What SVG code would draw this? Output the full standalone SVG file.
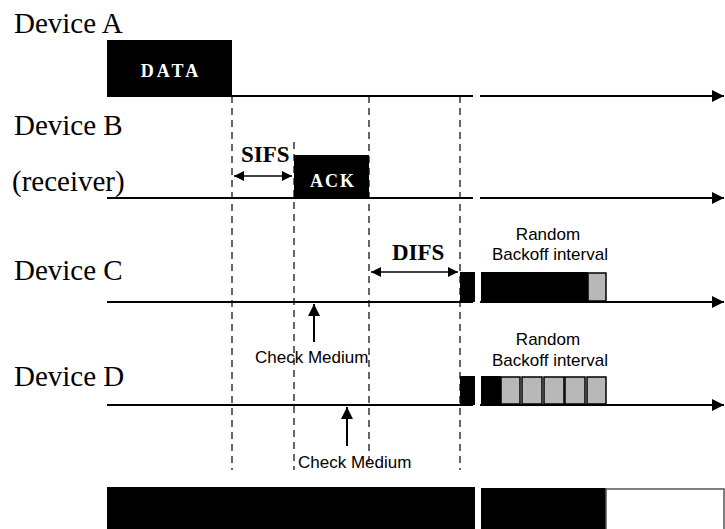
<svg xmlns="http://www.w3.org/2000/svg" width="725" height="529" viewBox="0 0 725 529">
<style>
.lbl{font-family:"Liberation Serif","Times New Roman",serif;font-size:29px;fill:#000}
.bold{font-family:"Liberation Serif","Times New Roman",serif;font-size:23px;font-weight:bold;fill:#000}
.wt{font-family:"Liberation Serif","Times New Roman",serif;font-size:18px;font-weight:bold;fill:#fff}
.sans{font-family:"Liberation Sans",Arial,sans-serif;font-size:17px;fill:#000}
.line{stroke:#000;stroke-width:2;fill:none}
.dash{stroke:#000;stroke-width:1.2;stroke-dasharray:7,5;fill:none}
.dbl{stroke:#000;stroke-width:1.6;fill:none}
.blk{fill:#000}
.gry{fill:#b8b8b8;stroke:#000;stroke-width:1.5}
</style>
<defs>
<marker id="big" viewBox="0 0 10 10" refX="10" refY="5" markerWidth="14" markerHeight="12" markerUnits="userSpaceOnUse" orient="auto"><path d="M0,0 L10,5 L0,10 z" fill="#000"/></marker>
<marker id="sm" viewBox="0 0 10 10" refX="10" refY="5" markerWidth="16" markerHeight="10" markerUnits="userSpaceOnUse" orient="auto-start-reverse"><path d="M0,0 L10,5 L0,10 z" fill="#000"/></marker>
<marker id="up" viewBox="0 0 10 10" refX="10" refY="5" markerWidth="18" markerHeight="12" markerUnits="userSpaceOnUse" orient="auto"><path d="M0,0 L10,5 L0,10 z" fill="#000"/></marker>
</defs>

<g id="labels">
<text class="lbl" x="14" y="33">Device A</text>
<text class="lbl" x="14" y="135">Device B</text>
<text class="lbl" x="12" y="191">(receiver)</text>
<text class="lbl" x="14" y="280">Device C</text>
<text class="lbl" x="14" y="386">Device D</text>
</g>

<g id="connectors">
<path class="line" d="M107,96 H473 M480,96 H724" marker-end="url(#big)"/>
<path class="line" d="M107,198 H473 M480,198 H724" marker-end="url(#big)"/>
<path class="line" d="M107,302 H473 M480,302 H724" marker-end="url(#big)"/>
<path class="line" d="M107,405 H473 M480,405 H724" marker-end="url(#big)"/>
<path class="dash" d="M232,96 V470"/>
<path class="dash" d="M294,142 V470"/>
<path class="dash" d="M369,96 V462"/>
<path class="dash" d="M460,96 V470"/>
<path class="dbl" d="M234,176 H292" marker-start="url(#sm)" marker-end="url(#sm)"/>
<path class="dbl" d="M371,272 H458" marker-start="url(#sm)" marker-end="url(#sm)"/>
<path class="line" d="M314,342 V304" marker-end="url(#up)"/>
<path class="line" d="M347,446 V407" marker-end="url(#up)"/>
</g>

<g id="data">
<rect class="blk" x="107" y="40" width="125" height="55"/>
<text class="wt" x="171" y="77" text-anchor="middle" letter-spacing="3">DATA</text>
</g>

<g id="ack">
<rect class="blk" x="294" y="155" width="75" height="43"/>
<text class="wt" x="333" y="187" text-anchor="middle" letter-spacing="2">ACK</text>
</g>

<g id="sifs"><text class="bold" x="241" y="162">SIFS</text></g>
<g id="difs"><text class="bold" x="392" y="260">DIFS</text></g>

<g id="deviceC-backoff">
<text class="sans" x="548" y="240" text-anchor="middle">Random</text>
<text class="sans" x="550" y="260" text-anchor="middle">Backoff interval</text>
<rect class="blk" x="460" y="272" width="15" height="30"/>
<rect class="blk" x="481" y="272" width="107" height="30"/>
<rect class="gry" x="588" y="273" width="18" height="28"/>
</g>

<g id="checkC"><text class="sans" x="255" y="363">Check Medium</text></g>

<g id="deviceD-backoff">
<text class="sans" x="548" y="345" text-anchor="middle">Random</text>
<text class="sans" x="550" y="366" text-anchor="middle">Backoff interval</text>
<rect class="blk" x="460" y="376" width="15" height="29"/>
<rect class="blk" x="481" y="376" width="20" height="29"/>
<rect class="gry" x="501" y="377" width="19" height="27"/>
<rect class="gry" x="522" y="377" width="20" height="27"/>
<rect class="gry" x="544" y="377" width="20" height="27"/>
<rect class="gry" x="565" y="377" width="20" height="27"/>
<rect class="gry" x="587" y="377" width="19" height="27"/>
</g>

<g id="checkD"><text class="sans" x="298" y="468">Check Medium</text></g>

<g id="bottom-bar">
<rect class="blk" x="107" y="487" width="368" height="42"/>
<rect class="blk" x="481" y="488" width="125" height="41"/>
<rect x="606" y="489" width="118" height="42" fill="#fff" stroke="#555" stroke-width="1.5"/>
</g>
</svg>
